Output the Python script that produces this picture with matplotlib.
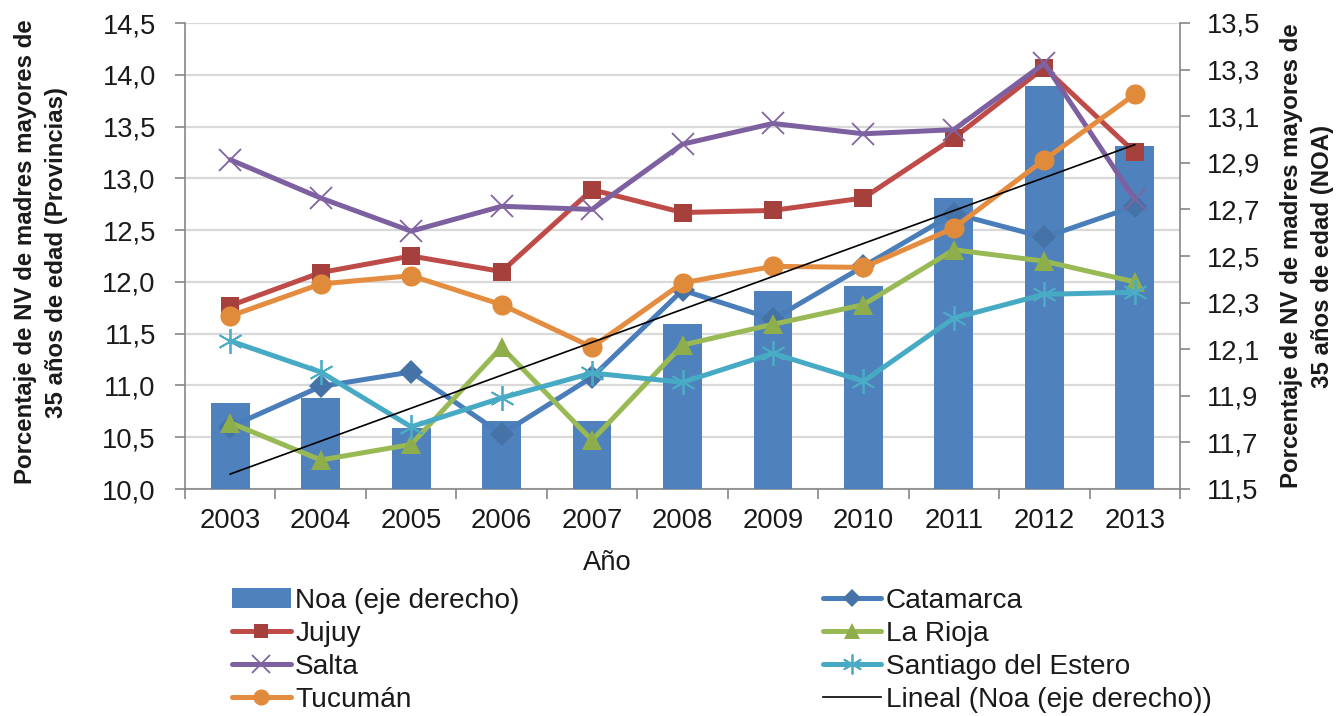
import matplotlib
matplotlib.use("Agg")
import matplotlib.pyplot as plt
import numpy as np
from matplotlib.patches import Patch
from matplotlib.lines import Line2D

plt.rcParams['font.family'] = ['Liberation Sans', 'DejaVu Sans']

years = ["2003", "2004", "2005", "2006", "2007", "2008", "2009", "2010", "2011", "2012", "2013"]
noa = [11.87, 11.89, 11.76, 11.79, 11.79, 12.21, 12.35, 12.37, 12.75, 13.23, 12.97]
catamarca = [10.60, 10.99, 11.13, 10.53, 11.08, 11.92, 11.64, 12.15, 12.66, 12.43, 12.73]
jujuy = [11.77, 12.09, 12.25, 12.10, 12.89, 12.67, 12.69, 12.81, 13.39, 14.07, 13.25]
la_rioja = [10.64, 10.28, 10.43, 11.37, 10.47, 11.39, 11.59, 11.78, 12.31, 12.20, 12.00]
salta = [13.18, 12.81, 12.49, 12.73, 12.70, 13.33, 13.53, 13.43, 13.47, 14.11, 12.80]
santiago = [11.43, 11.13, 10.60, 10.88, 11.12, 11.03, 11.31, 11.04, 11.65, 11.88, 11.90]
tucuman = [11.67, 11.98, 12.06, 11.78, 11.37, 11.99, 12.15, 12.14, 12.52, 13.18, 13.81]

left_ticks = [10.0, 10.5, 11.0, 11.5, 12.0, 12.5, 13.0, 13.5, 14.0, 14.5]
right_ticks = [11.5, 11.7, 11.9, 12.1, 12.3, 12.5, 12.7, 12.9, 13.1, 13.3, 13.5]

FS = 19.7
LFS = 20.2
TXT = '#1a1a1a'
AXC = '#868686'

fig = plt.figure(figsize=(13.38, 7.16), dpi=100)
L, R, B, T = 185/1338, 1180/1338, 1-489/716, 1-23/716
ax = fig.add_axes([L, B, R-L, T-B])
ax2 = ax.twinx()
ax3 = ax.twinx()

x = np.arange(len(years))

# base axis: grid + left ticks
ax.set_ylim(10.0, 14.5)
ax.set_yticks(left_ticks)
ax.set_yticklabels([f"{v:.1f}".replace('.', ',') for v in left_ticks], fontsize=FS, color=TXT)
ax.yaxis.grid(True, color='#d9d9d9', linewidth=1.6)
ax.set_axisbelow(True)
ax.set_xlim(-0.5, len(years) - 0.5)
ax.set_xticks(np.arange(-0.5, len(years), 1.0))
ax.set_xticklabels([])
ax.set_xticks(x, minor=True)
ax.set_xticklabels(years, minor=True, fontsize=FS, color=TXT)
ax.tick_params(axis='x', which='major', length=7, width=1.2, color=AXC, direction='out')
ax.tick_params(axis='x', which='minor', length=0, pad=14)
ax.tick_params(axis='y', length=7, width=1.2, color=AXC, direction='out', pad=14)
for s in ['top', 'right']:
    ax.spines[s].set_visible(False)
for s in ['left', 'bottom']:
    ax.spines[s].set_color(AXC)
    ax.spines[s].set_linewidth(1.2)

# bars on right axis
ax2.set_ylim(11.5, 13.5)
ax2.set_yticks(right_ticks)
ax2.set_yticklabels([f"{v:.1f}".replace('.', ',') for v in right_ticks], fontsize=FS, color=TXT)
ax2.tick_params(axis='y', length=7, width=1.2, color=AXC, direction='out', pad=12)
ax2.bar(x, noa, width=0.43, color='#4f81bd', zorder=2)
for s in ['top', 'left', 'bottom']:
    ax2.spines[s].set_visible(False)
ax2.spines['right'].set_color(AXC)
ax2.spines['right'].set_linewidth(1.2)

# lines axis (same scale as left)
ax3.set_ylim(10.0, 14.5)
ax3.set_yticks([])
for s in ax3.spines.values():
    s.set_visible(False)
ax3.patch.set_visible(False)

LW = 3.6
series = [
    (catamarca, 'Catamarca', '#4a7ebb', '#4572a7', 'D', 12, 0),
    (jujuy, 'Jujuy', '#be4b48', '#a5403d', 's', 13, 0),
    (la_rioja, 'La Rioja', '#98b954', '#8dae4a', '^', 15, 0),
    (salta, 'Salta', '#7d60a0', '#8064a2', 'x', 16, 1.3),
    (santiago, 'Santiago del Estero', '#46aac5', '#4bacc6', (6, 2, 0), 18, 1.3),
    (tucuman, 'Tucumán', '#e48c3f', '#e08a3c', 'o', 14.5, 0),
]
handles = {}
for vals, name, lc, mc, mk, ms, mew in series:
    h, = ax3.plot(x, vals, color=lc, lw=LW, marker=mk, ms=ms, mec=mc, mfc=mc, mew=mew,
                  label=name, solid_capstyle='round', solid_joinstyle='round')
    handles[name] = h

# linear trend of Noa (right axis scale)
coef = np.polyfit(x, noa, 1)
trend = np.polyval(coef, x)
tl, = ax3.plot(x, trend, color='black', lw=1.2, transform=ax2.transData, zorder=5)

# labels
fig.text(41/1338, 1-252/716, "Porcentaje de NV de madres mayores de\n35 años de edad (Provincias)",
         rotation=90, ha='center', va='center', fontsize=17.3, fontweight='bold', color=TXT,
         linespacing=1.4)
fig.text(1307/1338, 1-256/716, "Porcentaje de NV de madres mayores de\n35 años de edad (NOA)",
         rotation=90, ha='center', va='center', fontsize=17.3, fontweight='bold', color=TXT,
         linespacing=1.4)
fig.text(607/1338, 1-563/716, "Año", ha='center', va='center', fontsize=FS, color=TXT)

bar_h = Patch(facecolor='#4f81bd', edgecolor='none')
trend_h = Line2D([0], [0], color='black', lw=1.2)
leg_handles = [bar_h, handles['Jujuy'], handles['Salta'], handles['Tucumán'],
               handles['Catamarca'], handles['La Rioja'], handles['Santiago del Estero'], trend_h]
leg_labels = ['Noa (eje derecho)', 'Jujuy', 'Salta', 'Tucumán',
              'Catamarca', 'La Rioja', 'Santiago del Estero', 'Lineal (Noa (eje derecho))']
leg = fig.legend(leg_handles, leg_labels, ncol=2, loc='upper left',
                 bbox_to_anchor=(232/1338, 1-588/716), frameon=False, fontsize=LFS,
                 handlelength=2.1, handletextpad=0.15, columnspacing=10.8,
                 labelspacing=0.245, borderpad=0, borderaxespad=0, numpoints=1,
                 markerscale=0.8)
for t in leg.get_texts():
    t.set_color(TXT)

fig.savefig("out.png", dpi=100)
